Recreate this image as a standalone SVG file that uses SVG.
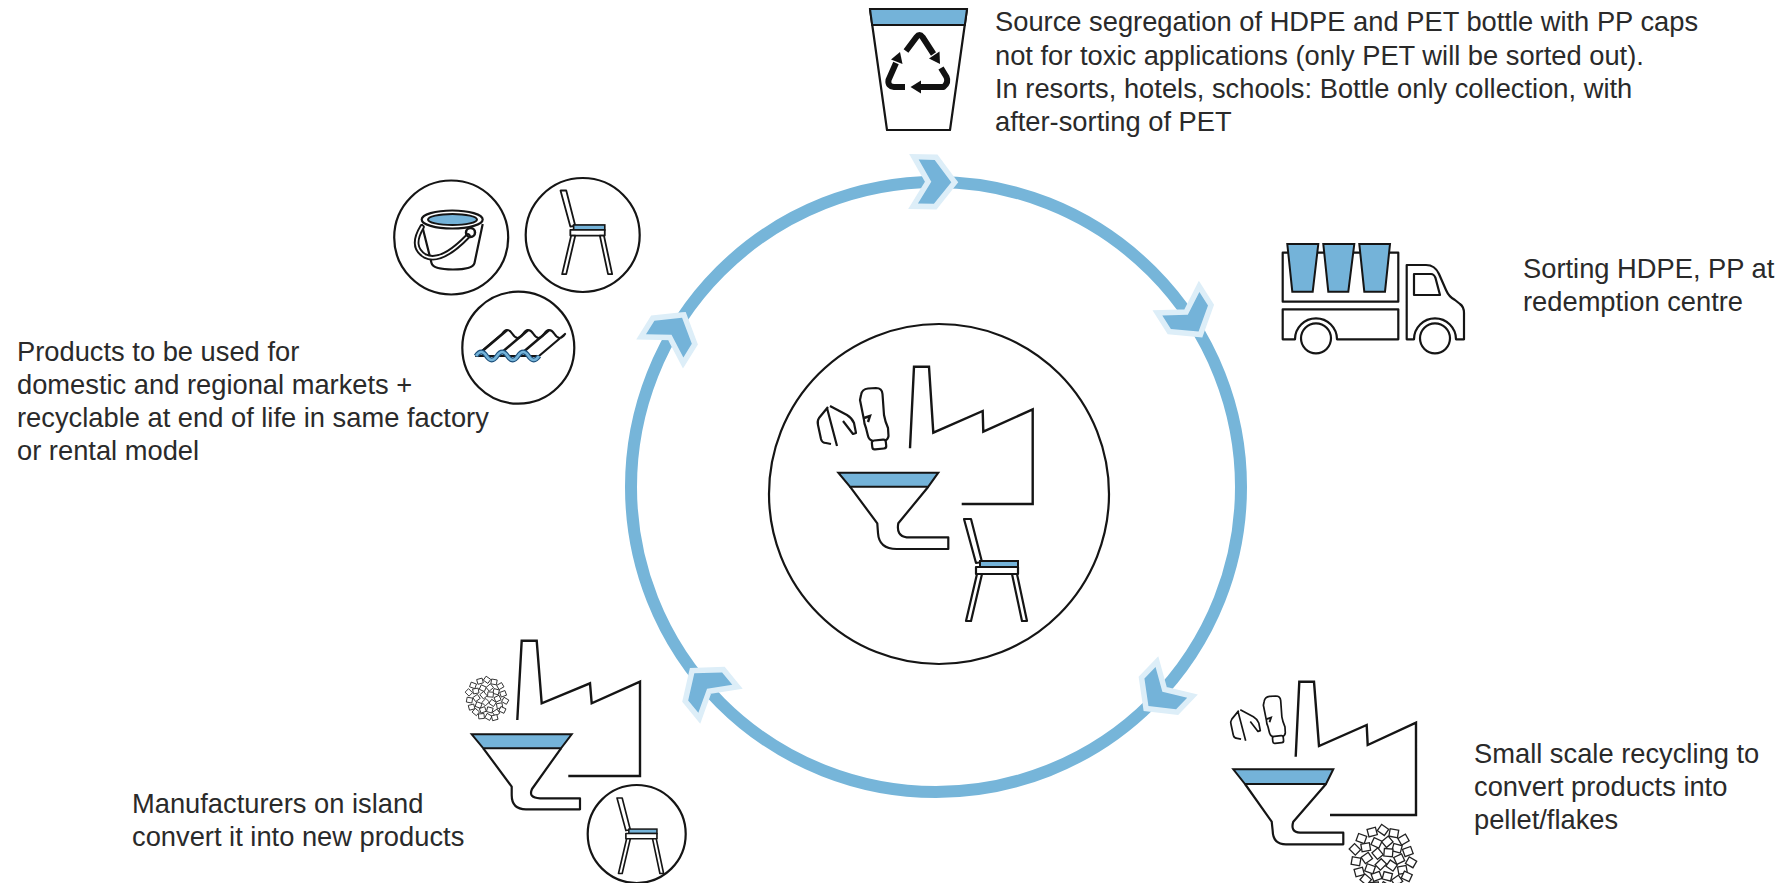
<svg xmlns="http://www.w3.org/2000/svg" xmlns:xlink="http://www.w3.org/1999/xlink" width="1782" height="883" viewBox="0 0 1782 883">
  <style>
    .lbl { font-family: "Liberation Sans", Arial, Helvetica, sans-serif; font-size: 27.3px; fill: #2a2a2a; }
    .ink { fill: none; stroke: #151515; stroke-width: 2.4; stroke-linejoin: miter; }
    .inkw { fill: #ffffff; stroke: #151515; stroke-width: 2.2; stroke-linejoin: round; }
    .blue { fill: #74b3d9; stroke: #151515; stroke-width: 2; }
    .disc { fill: #ffffff; stroke: #151515; stroke-width: 2.2; }
    .ring { fill: none; stroke: #76b5d9; stroke-width: 12; }
    .chev { fill: #74b3d9; stroke: #ddeef8; stroke-width: 11; stroke-linejoin: miter; paint-order: stroke; }
    .recy { fill: none; stroke: #111111; stroke-width: 6; stroke-linejoin: round; }
    .pel { fill: #ffffff; stroke: #222222; stroke-width: 1.2; }
  </style>
  <defs>
    <!-- chair pictogram, drawn at full size with origin at top of back post -->
    <g id="chair">
      <polygon class="inkw" points="0,0 7,0 18,43 12,44"/>
      <rect class="blue" x="16" y="42" width="38" height="6"/>
      <rect class="inkw" x="12" y="48" width="42" height="7"/>
      <polygon class="inkw" points="48,55 53,55 63,102 58,102"/>
      <polygon class="inkw" points="13,55 18,55 7,102 2,102"/>
    </g>
    <!-- crushed bottle and upside-down bottle -->
    <g id="bottles">
      <path class="inkw" d="M12,19 L3,30 Q1,33 2,37 L5,51 Q6,55 10,55 L15,56 M11,20 L21,58 M14,18 L31,27 Q36,30 38,35 L40,45 L37,46 L27,33"/>
      <path class="inkw" d="M45,7 Q46,1 52,0.5 L60,0 Q66,0 66.5,6 L68,27 Q69,33 72,40 L72.5,48 Q72,52 68,53 L57,53 Q53,52 52,48 L50,40 Q48,35 48,32 L44,12 Z"/>
      <path class="ink" d="M48,30 L54,28 L52,34" stroke-width="1.8"/>
      <rect class="inkw" x="56" y="52" width="14" height="9" rx="2.5" transform="rotate(-6 63 56)"/>
    </g>
    <!-- heap of plastic flakes / pellets -->
    <g id="pellets">
      <rect class="pel" x="-4" y="-3.5" width="8" height="7" transform="translate(-20,-18) rotate(20)"/>
      <rect class="pel" x="-4" y="-3.5" width="8" height="7" transform="translate(-10,-24) rotate(-15)"/>
      <rect class="pel" x="-4" y="-3.5" width="8" height="7" transform="translate(0,-26) rotate(35)"/>
      <rect class="pel" x="-4" y="-3.5" width="8" height="7" transform="translate(10,-23) rotate(10)"/>
      <rect class="pel" x="-4" y="-3.5" width="8" height="7" transform="translate(19,-17) rotate(-30)"/>
      <rect class="pel" x="-4" y="-3.5" width="8" height="7" transform="translate(-26,-8) rotate(45)"/>
      <rect class="pel" x="-4" y="-3.5" width="8" height="7" transform="translate(-16,-10) rotate(-10)"/>
      <rect class="pel" x="-4" y="-3.5" width="8" height="7" transform="translate(-6,-14) rotate(25)"/>
      <rect class="pel" x="-4" y="-3.5" width="8" height="7" transform="translate(4,-15) rotate(-40)"/>
      <rect class="pel" x="-4" y="-3.5" width="8" height="7" transform="translate(13,-9) rotate(15)"/>
      <rect class="pel" x="-4" y="-3.5" width="8" height="7" transform="translate(23,-6) rotate(-20)"/>
      <rect class="pel" x="-4" y="-3.5" width="8" height="7" transform="translate(-25,3) rotate(10)"/>
      <rect class="pel" x="-4" y="-3.5" width="8" height="7" transform="translate(-15,0) rotate(-35)"/>
      <rect class="pel" x="-4" y="-3.5" width="8" height="7" transform="translate(-5,-4) rotate(50)"/>
      <rect class="pel" x="-4" y="-3.5" width="8" height="7" transform="translate(5,-5) rotate(5)"/>
      <rect class="pel" x="-4" y="-3.5" width="8" height="7" transform="translate(15,1) rotate(-25)"/>
      <rect class="pel" x="-4" y="-3.5" width="8" height="7" transform="translate(26,4) rotate(30)"/>
      <rect class="pel" x="-4" y="-3.5" width="8" height="7" transform="translate(-22,13) rotate(-15)"/>
      <rect class="pel" x="-4" y="-3.5" width="8" height="7" transform="translate(-12,10) rotate(20)"/>
      <rect class="pel" x="-4" y="-3.5" width="8" height="7" transform="translate(-2,6) rotate(-45)"/>
      <rect class="pel" x="-4" y="-3.5" width="8" height="7" transform="translate(8,7) rotate(35)"/>
      <rect class="pel" x="-4" y="-3.5" width="8" height="7" transform="translate(18,11) rotate(-10)"/>
      <rect class="pel" x="-4" y="-3.5" width="8" height="7" transform="translate(-16,20) rotate(40)"/>
      <rect class="pel" x="-4" y="-3.5" width="8" height="7" transform="translate(-6,17) rotate(-20)"/>
      <rect class="pel" x="-4" y="-3.5" width="8" height="7" transform="translate(4,17) rotate(15)"/>
      <rect class="pel" x="-4" y="-3.5" width="8" height="7" transform="translate(13,21) rotate(-35)"/>
      <rect class="pel" x="-4" y="-3.5" width="8" height="7" transform="translate(22,17) rotate(25)"/>
      <rect class="pel" x="-4" y="-3.5" width="8" height="7" transform="translate(-8,26) rotate(-5)"/>
      <rect class="pel" x="-4" y="-3.5" width="8" height="7" transform="translate(2,27) rotate(30)"/>
      <rect class="pel" x="-4" y="-3.5" width="8" height="7" transform="translate(11,28) rotate(-15)"/>
    </g>
    <!-- flow direction chevron, pointing along +x -->
    <polygon id="chevron" class="chev" points="10,0 -7,-22 -23,-22 -10,0 -23,22 -7,22"/>
  </defs>

  <rect width="1782" height="883" fill="#ffffff"/>

  <!-- the loop and its direction chevrons -->
  <g id="connectors">
    <circle class="ring" cx="936" cy="487" r="305"/>
    <use xlink:href="#chevron" transform="translate(941.3,182) rotate(1)"/>
    <use xlink:href="#chevron" transform="translate(1193.2,323.1) rotate(57.5)"/>
    <use xlink:href="#chevron" transform="translate(1155.4,698.9) rotate(134)"/>
    <use xlink:href="#chevron" transform="translate(700.7,681) rotate(230.5)"/>
    <use xlink:href="#chevron" transform="translate(676.8,326.3) rotate(301.8)"/>
  </g>

  <!-- collection -->
  <g id="node-collection">
    <polygon class="inkw" points="870,9 967,9 950,130 887,130" stroke-width="2.5"/>
    <polygon class="blue" points="870,9 967,9 964.8,25 872.2,25"/>
    <path class="recy" d="M906,51 L916.5,37 Q919.5,33 922.5,37 L933.5,54"/>
    <polygon fill="#111" points="940,64 929,58.5 939.5,51.5"/>
    <path class="recy" d="M941,68 L946.5,77 Q949,82.5 943.5,87 L921,87"/>
    <polygon fill="#111" points="910.5,87 921,80.5 921,93.5"/>
    <path class="recy" d="M905,87 L894,87 Q887.5,86.5 888.5,80 L896,63"/>
    <polygon fill="#111" points="900,52 902.5,64 891,59.5"/>
    <text class="lbl" x="995" y="31">Source segregation of HDPE and PET bottle with PP caps</text>
    <text class="lbl" x="995" y="65">not for toxic applications (only PET will be sorted out).</text>
    <text class="lbl" x="995" y="98">In resorts, hotels, schools: Bottle only collection, with</text>
    <text class="lbl" x="995" y="131">after-sorting of PET</text>
  </g>

  <!-- sorting -->
  <g id="node-sorting">
    <rect class="inkw" x="1282.7" y="252.7" width="115.6" height="49"/>
    <polygon class="blue" points="1287.3,244 1318.3,244 1312.7,291.7 1292.3,291.7" stroke-width="2.2"/>
    <polygon class="blue" points="1323.3,244 1354.3,244 1348.3,291.7 1328.3,291.7" stroke-width="2.2"/>
    <polygon class="blue" points="1359.3,244 1390,244 1385,291.7 1364.3,291.7" stroke-width="2.2"/>
    <path class="inkw" d="M1282.7,309.3 H1398.3 V339.3 H1337 A21,21 0 0 0 1295,339.3 H1282.7 Z"/>
    <circle class="inkw" cx="1316" cy="338.3" r="15"/>
    <path class="inkw" d="M1406.7,339.3 V265 H1426 Q1435,265 1439,274 L1446,290 Q1449,297 1455,300 L1460,304 Q1464,307 1464,313 V339.3 H1456 A21,21 0 0 0 1414,339.3 Z"/>
    <path class="inkw" d="M1414,274 H1431 Q1434,274 1435.5,278 L1440,295 H1414 Z"/>
    <circle class="inkw" cx="1435" cy="338.3" r="15"/>
    <text class="lbl" x="1523" y="278">Sorting HDPE, PP at</text>
    <text class="lbl" x="1523" y="311">redemption centre</text>
  </g>

  <!-- small scale recycling -->
  <g id="node-recycling">
    <use xlink:href="#bottles" transform="translate(1229.5,696) scale(0.77)"/>
    <path class="ink" d="M1295.7,756.7 L1299.3,681.7 L1314,681.7 L1319,746 L1366.7,725 L1367.7,745 L1416,722.7 L1416,815 L1330,815"/>
    <path class="inkw" d="M1245,784 L1271.7,821.7 L1272.7,831 Q1273,844.3 1286,844.3 L1343.3,844.3 L1343.3,832.7 L1300,832.7 Q1290,832 1293.3,821.7 L1326,784"/>
    <polygon class="blue" points="1233.3,769.3 1333.3,769.3 1326,784 1245,784" stroke-width="2.2"/>
    <use xlink:href="#pellets" transform="translate(1383,858) scale(1.08)"/>
    <text class="lbl" x="1474" y="763">Small scale recycling to</text>
    <text class="lbl" x="1474" y="796">convert products into</text>
    <text class="lbl" x="1474" y="829">pellet/flakes</text>
  </g>

  <!-- manufacturing -->
  <g id="node-manufacturing">
    <use xlink:href="#pellets" transform="translate(487,698) scale(0.7)"/>
    <path class="ink" d="M517.3,720 L521.7,640.7 L536.7,640.7 L541.7,703.3 L590,683.3 L591.7,703.3 L640,681.7 L640,776 L568.3,776"/>
    <path class="inkw" d="M483.3,748.3 L511.7,786.7 L511.7,795 Q511.7,809.3 526,809.3 L580,809.3 L580,798.3 L540,798.3 Q528,798 532,789 L561,748.3"/>
    <polygon class="blue" points="471.7,734.3 571.7,734.3 561,748.3 483.3,748.3" stroke-width="2.2"/>
    <circle class="disc" cx="636.7" cy="834" r="49"/>
    <use xlink:href="#chair" transform="translate(617,798) scale(0.74)"/>
    <text class="lbl" x="132" y="813">Manufacturers on island</text>
    <text class="lbl" x="132" y="846">convert it into new products</text>
  </g>

  <!-- products -->
  <g id="node-products">
    <circle class="disc" cx="451.2" cy="237.5" r="57"/>
    <path class="inkw" d="M421.7,224 L431.5,263 Q433,269.5 453,269.5 Q473,269.5 474.5,263 L482.7,224"/>
    <ellipse class="inkw" cx="452.2" cy="219.5" rx="30.5" ry="9"/>
    <ellipse class="blue" cx="452.5" cy="219.5" rx="24.5" ry="5.5" stroke-width="1.5"/>
    <path d="M422,227 Q410,247 425,256 Q441,264 468,236" fill="none" stroke="#151515" stroke-width="5.5" stroke-linecap="round"/>
    <path d="M422,227 Q410,247 425,256 Q441,264 468,236" fill="none" stroke="#ffffff" stroke-width="1.8" stroke-linecap="round"/>
    <circle cx="470.5" cy="232.5" r="4.5" fill="none" stroke="#151515" stroke-width="2.5"/>

    <circle class="disc" cx="582.7" cy="235" r="57"/>
    <use xlink:href="#chair" transform="translate(560.5,190.5) scale(0.82)"/>

    <circle class="disc" cx="518.3" cy="347.7" r="56"/>
    <path class="inkw" d="M476,356 L502,334 Q507.25,326 512.5,334 Q517.75,342 523,334 Q528.25,326 533.5,334 Q538.75,342 544,334 Q549.25,326 554.5,334 Q559.75,342 565,334 L539,356 Z"/>
    <path class="ink" stroke-width="1.8" d="M481.25,352 L507.25,330 M502.25,352 L528.25,330 M523.25,352 L549.25,330"/>
    <path d="M476,356 Q481.25,348 486.5,356 Q491.75,364 497,356 Q502.25,348 507.5,356 Q512.75,364 518,356 Q523.25,348 528.5,356 Q533.75,364 539,356" fill="none" stroke="#1c4f7a" stroke-width="5"/>
    <path d="M476,356 Q481.25,348 486.5,356 Q491.75,364 497,356 Q502.25,348 507.5,356 Q512.75,364 518,356 Q523.25,348 528.5,356 Q533.75,364 539,356" fill="none" stroke="#74b3d9" stroke-width="2.5"/>
    <text class="lbl" x="17" y="361">Products to be used for</text>
    <text class="lbl" x="17" y="394">domestic and regional markets +</text>
    <text class="lbl" x="17" y="427">recyclable at end of life in same factory</text>
    <text class="lbl" x="17" y="460">or rental model</text>
  </g>

  <!-- centre: closed-loop factory -->
  <g id="node-centre">
    <circle class="disc" cx="939" cy="494" r="170"/>
    <use xlink:href="#bottles" transform="translate(816,388)"/>
    <path class="ink" d="M910,448.3 L914,366.7 L929,366.7 L933.3,432.7 L982.7,411 L983.3,431.7 L1032.7,409.3 L1032.7,504 L961.7,504"/>
    <path class="inkw" d="M850,486.7 L877.3,523.3 L878,533 Q879,549 896.7,549 L948.3,549 L948.3,537.3 L906.7,537.3 Q896,536 898.3,523.3 L928.3,486.7"/>
    <polygon class="blue" points="838.3,472.7 938.3,472.7 928.3,486.7 850,486.7" stroke-width="2.2"/>
    <use xlink:href="#chair" transform="translate(964,519)"/>
  </g>
</svg>
